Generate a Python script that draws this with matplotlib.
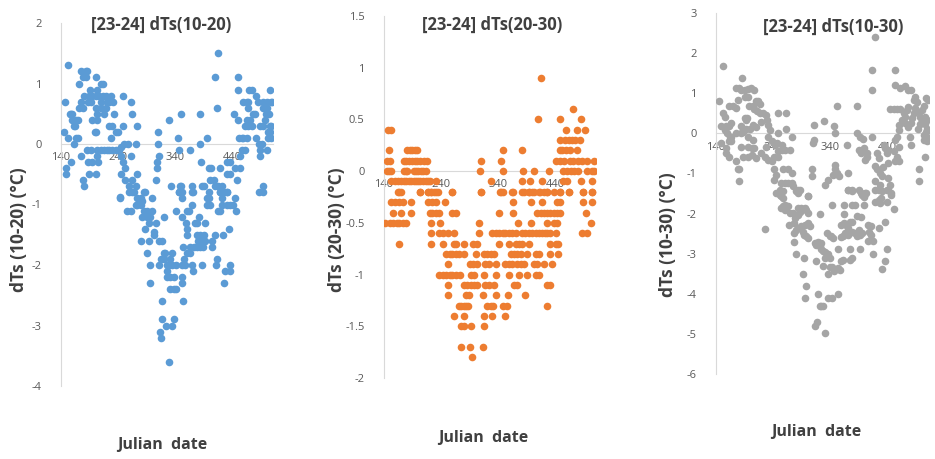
import numpy as np
import matplotlib
matplotlib.use("Agg")
import matplotlib.pyplot as plt
from matplotlib.ticker import FuncFormatter

plt.rcParams['font.family'] = ['Open Sans', 'DejaVu Sans']

# ---- data (julian date, dTs) ----
x1 = [152,147,145,152,155,158,160,159,166,169,162,164,162,149,149,157,
      175,184,185,178,184,172,191,181,189,195,175,187,192,172,178,166,170,175,178,181,186,192,188,195,189,201,
      201,210,213,204,201,207,213,219,210,220,224,201,210,219,204,216,199,201,195,204,204,210,204,205,216,221,
      227,232,224,230,227,233,236,240,249,249,224,230,236,242,245,245,248,251,257,262,264,273,271,263,253,246,253,259,265,271,274,243,
      310,310,312,309,308,307,329,345,351,347,367,333,348,351,347,352,370,372,384,384,386,388,391,397,399,403,402,408,411,416,422,411,413,416,419,419,425,431,431,437,431,437,
      443,450,450,451,445,454,453,457,460,466,457,463,454,448,460,466,469,469,466,472,463,469,475,470,475,477,480,483,486,495,501,508,483,488,492,489,490,494,495,495,501,500,505,498,489,495,507,509,504,507,504,509,501,507,511,
      243,259,265,268,274,280,283,285,288,300,256,263,271,274,280,283,291,297,285,291,300,294,306,288,303,304,280,294,312,317,291,297,296,320,342,347,352,370,370,352,360,361,361,354,367,361,367,320,323,335,315,320,332,312,326,329,335,341,352,358,355,326,332,338,326,352,332,338,341,352,318,354,317,338,325,335,313,316,330,
      361,364,376,379,383,379,384,391,381,387,393,373,379,384,390,370,372,387,393,396,402,399,396,399,405,405,410,413,412,416,419,422,431,437,442,419,425,431,422,424,435,428,437,437,426,445,447,487]
y1 = [1.3,0.7,0.2,0.1,0.5,0.5,0.5,0.4,0.4,0.4,0.3,0.3,0.0,-0.4,-0.5,-0.3,
      1.2,1.2,1.2,1.1,1.1,1.0,0.9,0.8,0.8,0.8,0.7,0.7,0.7,0.6,0.6,0.1,0.1,-0.2,-0.6,-0.7,-0.1,-0.1,-0.3,-0.3,-0.5,-0.5,
      1.1,1.0,1.0,0.9,0.8,0.8,0.8,0.8,0.7,0.7,0.7,0.6,0.6,0.6,0.5,0.5,0.2,0.2,0.4,0.4,-0.1,-0.1,-0.2,-0.3,-0.1,-0.1,
      0.8,0.7,0.3,0.3,0.1,0.5,0.2,0.2,0.3,0.8,-0.1,-0.1,-0.1,-0.1,-0.05,-0.2,-0.3,0.0,0.0,0.7,0.5,0.3,0.0,-0.2,-0.4,-0.5,-0.6,-0.7,-0.6,-0.7,-0.5,-0.87,
      0.2,0.0,-0.2,-0.3,-0.4,-0.6,0.4,0.1,0.5,-0.1,-0.1,-0.7,-0.7,-0.7,-0.8,-0.8,-0.7,-0.8,0.5,0.0,-0.3,-0.7,-0.7,0.1,-0.4,-0.4,-0.6,-0.6,-0.7,-0.7,-0.7,1.1,0.6,1.5,-0.4,-0.8,-0.8,-0.8,-0.3,-0.3,-0.5,-0.5,
      0.5,1.1,0.9,0.4,-0.4,-0.4,0.1,0.1,0.1,0.1,-0.1,-0.1,-0.2,-0.6,0.7,0.7,0.7,0.6,0.4,0.4,0.3,0.3,0.3,0.9,0.9,0.5,0.5,0.8,0.7,0.7,0.7,0.7,0.1,0.0,0.0,-0.1,-0.2,-0.7,-0.8,0.6,0.6,0.5,0.5,0.4,0.3,0.3,0.3,0.3,0.2,0.2,0.1,0.1,-0.1,0.9,0.7,
      -0.9,-0.8,-0.8,-0.8,-0.9,-0.9,-0.95,-0.8,-0.8,-0.9,-1.1,-1.1,-1.0,-1.0,-1.0,-1.2,-1.2,-1.2,-1.1,-1.1,-1.1,-1.3,-1.3,-1.4,-1.5,-1.45,-1.6,-1.6,-1.6,-1.6,-1.8,-2.0,-2.3,-1.2,-1.1,-0.8,-0.9,-0.8,-1.0,-1.2,-1.3,-1.4,-1.5,-1.7,-1.7,-1.8,-1.8,-1.8,-1.8,-1.8,-1.9,-1.9,-1.9,-2.0,-2.0,-2.0,-2.0,-2.0,-2.0,-2.0,-1.9,-2.1,-2.2,-2.2,-2.2,-2.2,-2.4,-2.4,-2.4,-2.3,-2.6,-2.6,-2.9,-2.9,-3.0,-3.0,-3.1,-3.2,-3.6,
      -1.1,-1.1,-1.3,-1.3,-1.2,-1.5,-1.5,-1.5,-1.6,-1.6,-1.6,-1.7,-1.7,-1.7,-1.7,-2.0,-2.1,-2.0,-1.3,-1.0,-1.0,-0.9,-0.9,-0.8,-1.6,-1.7,-1.5,-1.9,-2.0,-1.1,-1.1,-1.0,-1.0,-1.0,-1.0,-0.8,-0.8,-0.8,-0.9,-1.5,-1.4,-2.1,-2.1,-2.0,-2.3,-0.9,-1.1,-0.8]

x2 = [147,152,149,145,150,145,149,153,
      153,159,164,169,175,179,183,187,192,196,200,204,209,213,218,220,231,
      164,169,204,217,223,228,234,260,
      181,185,189,194,198,
      175,179,183,189,194,198,204,211,216,
      175,179,181,192,196,200,205,209,213,
      310,309,327,310,348,345,348,343,349,366,382,384,382,397,382,394,400,403,411,416,417,414,426,430,
      442,448,448,449,449,460,458,464,470,475,484,452,460,466,478,455,466,472,481,487,496,454,461,468,474,481,496,505,509,472,486,478,493,508,454,461,486,505,449,464,489,505,
      166,204,217,223,231,260,310,345,365,385,394,403,412,421,426,438,449,464,490,505,
      153,159,166,173,187,217,225,231,247,367,398,417,443,449,489,505,
      156,169,188,220,225,231,237,260,266,342,367,409,416,421,426,432,438,443,448,494,
      142,150,156,162,167,173,179,223,238,307,375,398,426,438,443,503,
      223,237,243,252,263,307,330,336,342,348,353,359,365,371,382,388,394,400,406,412,417,423,426,432,441,487,496,
      166,223,243,262,267,281,297,303,341,359,371,377,382,394,432,442,446,
      249,255,260,266,272,281,301,316,321,327,333,362,368,374,380,391,406,412,432,446,
      253,291,297,303,318,324,336,353,359,365,374,380,386,403,409,420,435,
      237,243,249,255,260,266,274,292,298,316,336,359,377,391,406,412,
      252,281,286,292,298,304,318,324,333,368,374,426,432,
      252,284,290,313,336,358,388,
      271,275,280,284,287,320,327,331,349,356,426,
      263,281,316,330,352,
      275,281,292,316,
      275,291,313,
      295]
y2 = [0.4,0.4,0.2,0.1,0.1,0.0,0.0,0.0,
      -0.1,-0.1,-0.1,-0.1,-0.1,-0.1,-0.1,-0.1,-0.1,-0.1,-0.1,-0.1,-0.1,-0.1,-0.1,-0.1,-0.1,
      -0.2,-0.2,-0.2,-0.2,-0.2,-0.2,-0.2,-0.2,
      0.2,0.2,0.2,0.2,0.2,
      0.1,0.1,0.1,0.1,0.1,0.1,0.1,0.1,0.1,
      0.0,0.0,0.0,0.0,0.0,0.0,0.0,0.0,0.0,
      0.1,0.0,-0.1,-0.2,0.2,0.1,0.0,-0.2,-0.2,-0.2,0.2,0.0,-0.1,-0.1,-0.2,-0.2,-0.2,0.0,0.5,0.9,-0.1,-0.2,-0.2,0.0,
      0.1,0.5,0.3,0.2,0.1,0.4,0.3,0.3,0.3,0.3,0.3,0.2,0.2,0.2,0.2,0.1,0.1,0.1,0.1,0.1,0.1,0.0,0.0,0.0,0.0,0.0,0.0,0.0,0.0,0.6,0.5,0.4,0.4,0.1,-0.1,-0.1,-0.1,-0.1,-0.2,-0.2,-0.2,-0.2,
      -0.2,-0.2,-0.2,-0.2,-0.2,-0.2,-0.2,-0.2,-0.2,-0.2,-0.2,-0.2,-0.2,-0.2,-0.2,-0.2,-0.2,-0.2,-0.2,-0.2,
      -0.3,-0.3,-0.3,-0.3,-0.3,-0.3,-0.3,-0.3,-0.3,-0.3,-0.3,-0.3,-0.3,-0.3,-0.3,-0.3,
      -0.4,-0.4,-0.4,-0.4,-0.4,-0.4,-0.4,-0.4,-0.4,-0.4,-0.4,-0.4,-0.4,-0.4,-0.4,-0.4,-0.4,-0.4,-0.4,-0.4,
      -0.5,-0.5,-0.5,-0.5,-0.5,-0.5,-0.5,-0.5,-0.5,-0.5,-0.5,-0.5,-0.5,-0.5,-0.5,-0.5,
      -0.6,-0.6,-0.6,-0.6,-0.6,-0.6,-0.6,-0.6,-0.6,-0.6,-0.6,-0.6,-0.6,-0.6,-0.6,-0.6,-0.6,-0.6,-0.6,-0.6,-0.6,-0.6,-0.6,-0.6,-0.6,-0.6,-0.6,
      -0.7,-0.7,-0.7,-0.7,-0.7,-0.7,-0.7,-0.7,-0.7,-0.7,-0.7,-0.7,-0.7,-0.7,-0.7,-0.7,-0.7,
      -0.8,-0.8,-0.8,-0.8,-0.8,-0.8,-0.8,-0.8,-0.8,-0.8,-0.8,-0.8,-0.8,-0.8,-0.8,-0.8,-0.8,-0.8,-0.8,-0.8,
      -0.9,-0.9,-0.9,-0.9,-0.9,-0.9,-0.9,-0.9,-0.9,-0.9,-0.9,-0.9,-0.9,-0.9,-0.9,-0.9,-0.9,
      -1.0,-1.0,-1.0,-1.0,-1.0,-1.0,-1.0,-1.0,-1.0,-1.0,-1.0,-1.0,-1.0,-1.0,-1.0,-1.0,
      -1.1,-1.1,-1.1,-1.1,-1.1,-1.1,-1.1,-1.1,-1.1,-1.1,-1.1,-1.1,-1.1,
      -1.2,-1.2,-1.2,-1.2,-1.2,-1.2,-1.2,
      -1.3,-1.3,-1.3,-1.3,-1.3,-1.3,-1.3,-1.3,-1.3,-1.3,-1.3,
      -1.4,-1.4,-1.4,-1.4,-1.4,
      -1.5,-1.5,-1.5,-1.5,
      -1.7,-1.7,-1.7,
      -1.8]

x3 = [152,146,152,155,149,158,162,166,155,160,164,166,162,166,149,158,158,162,175,178,181,180,
      163,169,175,185,175,181,184,190,196,201,207,178,190,196,198,204,210,213,216,207,212,216,190,194,193,184,193,199,205,210,219,
      175,184,187,196,204,184,196,202,207,187,196,202,210,222,228,229,231,234,231,237,243,228,219,225,231,237,241,
      248,263,263,248,246,255,249,255,261,269,249,273,242,245,242,257,265,272,245,251,257,254,260,266,272,275,283,280,301,
      311,311,310,329,346,348,352,368,308,308,331,348,347,345,351,354,336,371,371,377,394,400,399,386,387,391,397,398,403,404,401,389,394,
      412,413,417,412,418,421,427,430,432,433,435,441,438,421,424,418,427,441,440,444,438,446,452,452,453,459,456,450,
      444,450,456,462,462,470,475,481,459,460,456,453,459,468,470,473,476,465,470,476,481,485,488,491,485,482,488,494,497,500,497,493,
      507,510,503,500,505,508,505,508,506,504,510,503,508,513,481,479,505,495,495,
      225,248,251,254,257,253,257,261,266,260,269,274,267,276,278,283,286,289,284,289,295,298,301,283,286,301,
      277,280,284,289,295,301,304,277,292,294,298,301,280,294,292,297,296,
      321,313,315,318,322,323,324,327,330,333,336,339,331,
      314,327,336,339,343,346,353,356,359,362,318,321,324,327,336,342,353,313,317,330,
      333,339,345,341,353,359,362,374,377,342,364,378,383,398,364,371,377,389,395,398,402,
      359,364,368,371,374,377,365,371,377,383,387,389,392,395,374,392,386,393,406,410,408,411,406,415,415,
      418,424,428,426,425,430,435,438,436,438,446,450,418,425,430,441]
y3 = [1.69,0.81,0.5,0.4,0.18,0.18,0.18,0.25,0.08,0.0,-0.08,-0.08,-0.2,-0.2,-0.25,-0.37,-0.5,-0.58,-0.7,-0.9,-0.9,-1.2,
      0.68,0.68,0.62,1.39,1.14,1.14,1.08,1.08,1.1,1.12,1.08,0.83,0.9,0.9,0.68,0.68,0.8,0.8,0.74,0.6,0.55,0.5,0.37,0.37,0.33,0.18,0.12,0.12,0.2,0.17,0.29,
      0.0,0.0,0.04,-0.08,-0.17,-0.33,-0.33,-0.37,-0.37,-0.58,-0.58,-0.54,-0.62,0.5,0.45,0.33,0.2,0.08,-0.1,-0.2,-0.29,-0.33,-0.5,-0.58,-0.66,-0.7,-0.58,
      0.5,0.5,0.1,0.0,-0.25,-0.29,-0.45,-0.41,-0.41,-0.41,-0.58,-0.08,-0.9,-1.03,-1.16,-0.9,-0.9,-1.0,-1.49,-1.41,-1.45,-1.24,-1.24,-1.24,-1.24,-1.32,-1.41,-1.45,-1.57,
      0.2,-0.17,-0.25,0.3,0.18,0.0,0.68,-0.29,-0.9,-1.07,-1.3,-0.78,-0.9,-1.03,-0.99,-1.07,-1.16,-1.0,-1.41,-1.41,-1.49,-1.49,-1.57,0.68,0.0,-0.1,-0.15,-0.37,-0.5,-0.58,-0.66,-0.41,-0.5,
      1.59,1.09,2.4,-0.08,-0.81,-0.9,-0.99,-1.07,-0.83,-0.29,-0.37,-0.41,-0.5,-0.5,-0.62,-1.2,-1.28,-0.74,-1.12,-1.28,-1.41,-1.49,1.59,1.2,-0.7,-0.7,-0.58,-0.45,
      0.6,0.6,0.6,0.6,1.12,1.17,1.09,1.07,0.08,0.2,-0.08,-0.17,-0.33,0.5,0.41,0.58,0.66,0.33,0.25,0.16,0.26,0.83,0.9,0.78,0.5,0.37,0.62,0.54,0.41,0.33,0.23,0.12,
      0.87,0.83,0.68,0.58,0.41,0.33,0.23,0.12,0.04,-0.05,-0.12,-0.17,-0.2,-0.12,-0.3,-0.08,-0.58,-0.9,-1.2,
      -2.39,-1.49,-1.53,-1.57,-1.62,-1.87,-1.82,-1.78,-1.82,-1.91,-1.99,-1.99,-2.28,-2.24,-2.11,-2.03,-1.95,-1.87,-1.87,-1.91,-1.87,-1.91,-1.99,-1.49,-1.41,-1.57,
      -2.49,-2.41,-2.36,-2.32,-2.28,-2.24,-2.32,-2.72,-2.45,-2.53,-2.57,-2.61,-3.0,-3.11,-3.5,-3.8,-4.1,
      -2.0,-2.73,-2.78,-2.72,-2.82,-2.74,-2.88,-2.94,-2.97,-3.02,-3.0,-3.11,-3.11,
      -3.18,-3.3,-3.5,-3.32,-3.32,-3.44,-3.36,-3.4,-3.19,-3.15,-4.0,-4.3,-4.3,-4.3,-4.1,-4.1,-4.0,-4.81,-4.71,-4.99,
      -2.49,-2.57,-2.61,-2.57,-2.88,-2.59,-2.57,-3.15,-3.11,-1.78,-1.78,-1.78,-1.78,-1.78,-2.0,-1.41,-1.45,-1.41,-1.53,-1.58,-1.49,
      -2.28,-2.24,-2.32,-2.36,-2.22,-2.2,-2.49,-2.53,-2.45,-2.49,-2.57,-2.4,-2.53,-2.49,-2.88,-2.88,-2.07,-2.09,-2.28,-2.32,-2.45,-2.53,-2.69,-2.69,-3.0,
      -1.7,-1.66,-1.62,-1.74,-2.36,-3.38,-2.2,-2.88,-3.19,-1.7,-1.53,-1.89,-1.41,-1.41,-1.45,-1.41]

titles = ['[23-24] dTs(10-20)', '[23-24] dTs(20-30)', '[23-24] dTs(10-30)']
ylabels = ['dTs (10-20) (\u00b0C)', 'dTs (20-30) (\u00b0C)', 'dTs (10-30) (\u00b0C)']
xticks = [140, 240, 340, 440]
yticks = [np.arange(-4, 2.01, 1), np.arange(-2, 1.51, 0.5), np.arange(-6, 3.01, 1)]
colors = ['#5B9BD5', '#ED7D31', '#A5A5A5']
xs = [x1, x2, x3]
ys = [y1, y2, y3]

W, H = 935, 459
fig = plt.figure(figsize=(W / 100, H / 100), dpi=100)

# axes boxes in pixels: left, top, right, bottom
boxes = [(61, 23, 273, 386), (384, 16, 596, 378), (716, 13, 929, 374)]
title_pos = [(161, 25), (492, 25), (833, 27)]
ylab_pos = [(19, 230), (337, 230), (668, 235)]
xlab_pos = [(162, 445), (483, 438), (816, 432)]

for i in range(3):
    l, t, r, b = boxes[i]
    ax = fig.add_axes([l / W, 1 - b / H, (r - l) / W, (b - t) / H])
    ax.scatter(xs[i], ys[i], s=30, color=colors[i], linewidths=0, zorder=3)
    ax.set_xlim(140, 512)
    ax.set_ylim(yticks[i][0], yticks[i][-1])
    ax.set_xticks(xticks)
    ax.set_yticks(yticks[i])
    ax.yaxis.set_major_formatter(FuncFormatter(lambda v, p: '%g' % v))
    ax.spines['top'].set_visible(False)
    ax.spines['right'].set_visible(False)
    ax.spines['bottom'].set_position(('data', 0))
    ax.spines['bottom'].set_color('#d9d9d9')
    ax.spines['left'].set_color('#d9d9d9')
    ax.tick_params(length=0, labelsize=8, colors='#595959')
    ax.tick_params(axis='x', pad=6)
    ax.tick_params(axis='y', pad=14)
    ax.patch.set_alpha(0)

    fig.text(title_pos[i][0] / W, 1 - title_pos[i][1] / H, titles[i],
             ha='center', va='center', fontsize=12, fontweight='bold', color='#404040')
    fig.text(ylab_pos[i][0] / W, 1 - ylab_pos[i][1] / H, ylabels[i], rotation=90,
             ha='center', va='center', fontsize=12.5, fontweight='bold', color='#404040')
    fig.text(xlab_pos[i][0] / W, 1 - xlab_pos[i][1] / H, 'Julian  date',
             ha='center', va='center', fontsize=11.5, fontweight='bold', color='#404040')

fig.savefig('out.png', dpi=100)
